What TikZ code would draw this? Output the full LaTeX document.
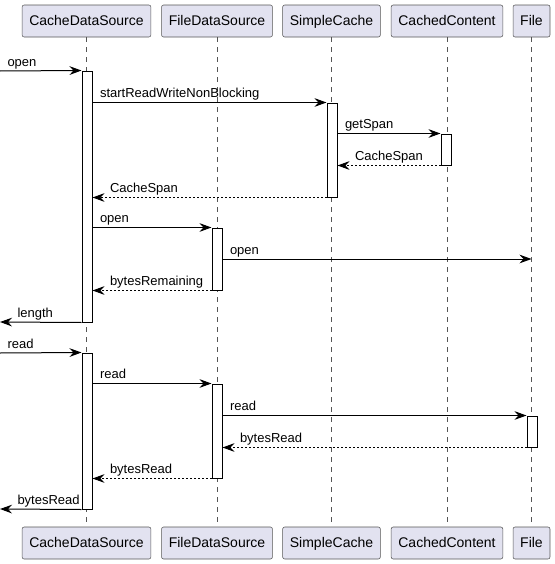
\documentclass[tikz,border=0pt]{standalone}
\usepackage{fontspec}
\setmainfont{Liberation Sans}
\usetikzlibrary{arrows.meta,fit}
\definecolor{partfill}{HTML}{E2E2F0}
\definecolor{partline}{HTML}{555555}

\begin{document}
\begin{tikzpicture}[
x=0.75pt, y=-0.75pt,
part/.style={draw=partline, fill=partfill, rounded corners=1.5pt, minimum height=24pt, inner xsep=5.4pt, text height=8.4pt, text depth=1.6pt, font=\fontsize{10.5}{12}\selectfont},
life/.style={draw=partline, dash pattern=on 3.75pt off 3.75pt, line width=0.5pt},
act/.style={draw, fill=white, inner sep=0pt, line width=0.75pt},
call/.style={-{Stealth[length=9pt, width=6.5pt, inset=3pt]}, line width=0.75pt},
ret/.style={call, dash pattern=on 1.5pt off 1.5pt},
msgtext/.style={anchor=base west, inner sep=0pt, yshift=3.4pt, font=\fontsize{9.75}{11}\selectfont},
lbl/.style={msgtext, xshift=5.25pt},
rlbl/.style={msgtext, xshift=12.75pt}
]
\useasboundingbox (0,0) rectangle (555,564);

\node[part] (cdsT) at (86.5,21) {CacheDataSource};
\node[part] (fdsT) at (217,21) {FileDataSource};
\node[part] (scT) at (331.5,21) {SimpleCache};
\node[part] (ccT) at (447,21) {CachedContent};
\node[part] (fT) at (531.5,21) {File};
\node[part] (cdsB) at (86.5,543) {CacheDataSource};
\node[part] (fdsB) at (217,543) {FileDataSource};
\node[part] (scB) at (331.5,543) {SimpleCache};
\node[part] (ccB) at (447,543) {CachedContent};
\node[part] (fB) at (531.5,543) {File};

\draw[life] (cdsT) -- (cdsB);
\draw[life] (fdsT) -- (fdsB);
\draw[life] (scT) -- (scB);
\draw[life] (ccT) -- (ccB);
\draw[life] (fT) -- (fB);

\node[act, fit={(82,71) (92,322)}] (cds1) {};
\node[act, fit={(327,103) (337,197)}] (sc1) {};
\node[act, fit={(441,134) (451,165)}] (cc1) {};
\node[act, fit={(212,228) (222,290)}] (fds1) {};
\node[act, fit={(82,353) (92,509)}] (cds2) {};
\node[act, fit={(212,384) (222,478)}] (fds2) {};
\node[act, fit={(527,416) (537,447)}] (f1) {};

\coordinate (inOpen) at (0,71);
\coordinate (outLen) at (0,322);
\coordinate (inRead) at (0,353);
\coordinate (outRead) at (0,509);
\coordinate (fOpen) at (531.5,259);

\draw[call] (inOpen) -- node[at start, lbl] {open} (cds1.north west);
\draw[call] (cds1.east |- sc1.north) -- node[at start, lbl] {startReadWriteNonBlocking} (sc1.north west);
\draw[call] (sc1.east |- cc1.north) -- node[at start, lbl] {getSpan} (cc1.north west);
\draw[ret] (cc1.south west) -- node[at end, rlbl] {CacheSpan} (sc1.east |- cc1.south);
\draw[ret] (sc1.south west) -- node[at end, rlbl] {CacheSpan} (cds1.east |- sc1.south);
\draw[call] (cds1.east |- fds1.north) -- node[at start, lbl] {open} (fds1.north west);
\draw[call] (fds1.east |- fOpen) -- node[at start, lbl] {open} (fOpen);
\draw[ret] (fds1.south west) -- node[at end, rlbl] {bytesRemaining} (cds1.east |- fds1.south);
\draw[call] (cds1.south west) -- node[at end, rlbl] {length} (outLen);

\draw[call] (inRead) -- node[at start, lbl] {read} (cds2.north west);
\draw[call] (cds2.east |- fds2.north) -- node[at start, lbl] {read} (fds2.north west);
\draw[call] (fds2.east |- f1.north) -- node[at start, lbl] {read} (f1.north west);
\draw[ret] (f1.south west) -- node[at end, rlbl] {bytesRead} (fds2.east |- f1.south);
\draw[ret] (fds2.south west) -- node[at end, rlbl] {bytesRead} (cds2.east |- fds2.south);
\draw[call] (cds2.south west) -- node[at end, rlbl] {bytesRead} (outRead);
\end{tikzpicture}
\end{document}
